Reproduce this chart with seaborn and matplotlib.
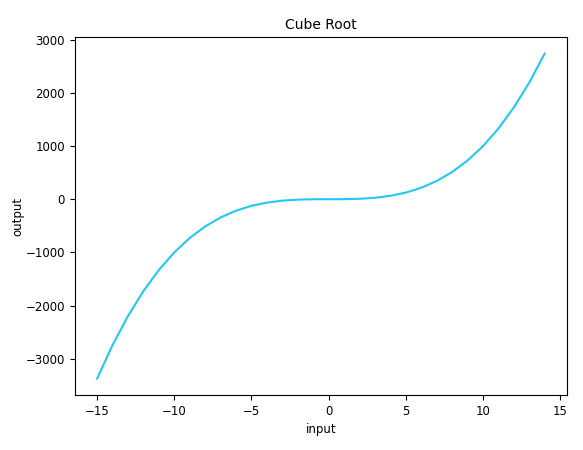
import matplotlib
matplotlib.use("Agg")
import matplotlib.pyplot as plt
import seaborn as sns
import pandas as pd

# data
inputs = list(range(-15, 15))
outputs = [-3375, -2744, -2197, -1728, -1331, -1000, -729, -512, -343, -216,
           -125, -64, -27, -8, -1, 0, 1, 8, 27, 64,
           125, 216, 343, 512, 729, 1000, 1331, 1728, 2197, 2744]

df = pd.DataFrame({'input': inputs, 'output': outputs})

sns.set_style('ticks', {'axes.edgecolor': 'black', 'text.color': 'black',
                        'axes.labelcolor': 'black', 'xtick.color': 'black',
                        'ytick.color': 'black'})
plt.rcParams['font.family'] = ['DejaVu Sans']

fig = plt.figure(figsize=(5.83, 4.5), dpi=100)
ax = fig.add_axes([0.128, 0.122, 0.845, 0.796])
sns.lineplot(data=df, x='input', y='output', color='#22c8f2', linewidth=1.5, ax=ax)
ax.set_title('Cube Root', fontsize=10)
ax.set_xlabel('input', fontsize=8.5)
ax.set_ylabel('output', fontsize=8.5, labelpad=1)
ax.tick_params(labelsize=8.5)
for s in ax.spines.values():
    s.set_visible(True)
    s.set_linewidth(0.8)
ax.set_xticks([-15, -10, -5, 0, 5, 10, 15])

fig.savefig('out.png', dpi=100)
